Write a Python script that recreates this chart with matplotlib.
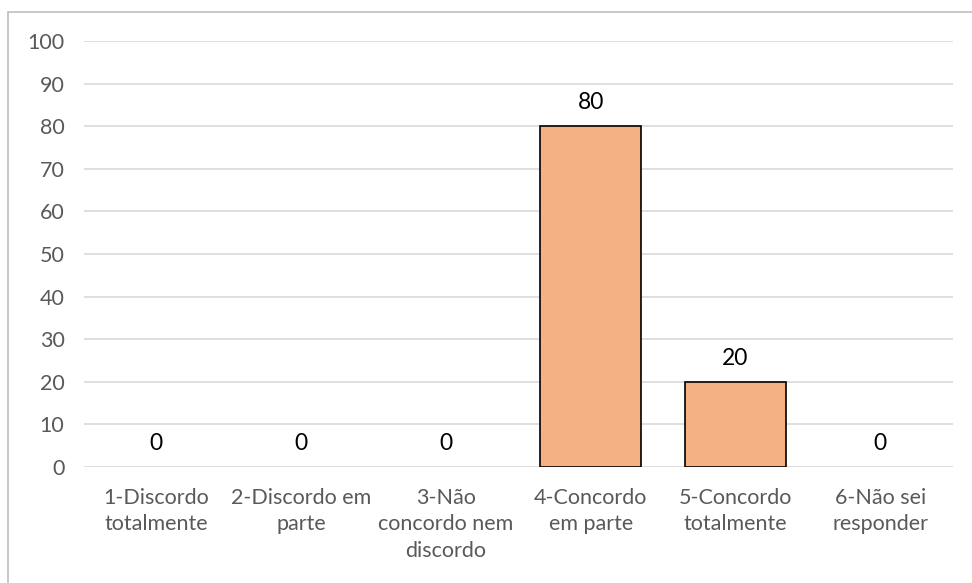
import matplotlib
matplotlib.use("Agg")
import matplotlib.pyplot as plt
from matplotlib.patches import Rectangle

categories = ["1-Discordo\ntotalmente", "2-Discordo em\nparte", "3-Não\nconcordo nem\ndiscordo",
              "4-Concordo\nem parte", "5-Concordo\ntotalmente", "6-Não sei\nresponder"]
values = [0, 0, 0, 80, 20, 0]
yticks = list(range(0, 101, 10))

plt.rcParams['font.family'] = ['Lato', 'DejaVu Sans']

fig = plt.figure(figsize=(9.72, 5.83), dpi=100)
ax = fig.add_axes([0.0864, 0.199, 0.980 - 0.0864, 0.9297 - 0.199])

x = list(range(len(categories)))
lws = [1.2 if v > 0 else 0 for v in values]
ax.bar(x, values, width=0.70, color="#F4B183", edgecolor="black", linewidth=lws, zorder=3)
for xi, v in zip(x, values):
    ax.text(xi, v + 3.0, str(v), ha="center", va="bottom", fontsize=16.5, color="black")

ax.set_xlim(-0.5, len(categories) - 0.5)
ax.set_ylim(0, 100)
ax.set_yticks(yticks)
ax.set_xticks(x)
ax.set_xticklabels(categories, fontsize=15.5, color="#595959", linespacing=1.4)
ax.tick_params(axis="y", labelsize=15.5, labelcolor="#595959", length=0, pad=14)
ax.tick_params(axis="x", length=0, pad=15)
ax.grid(axis="y", color="#D9D9D9", linewidth=1.2, zorder=0)
for s in ax.spines.values():
    s.set_visible(False)

border = Rectangle((8 / 972, -0.1), 1.2, (583 - 12) / 583 + 0.1, transform=fig.transFigure,
                   fill=False, edgecolor="#BFBFBF", linewidth=1.2)
fig.patches.append(border)

fig.savefig("out.png", dpi=100)
